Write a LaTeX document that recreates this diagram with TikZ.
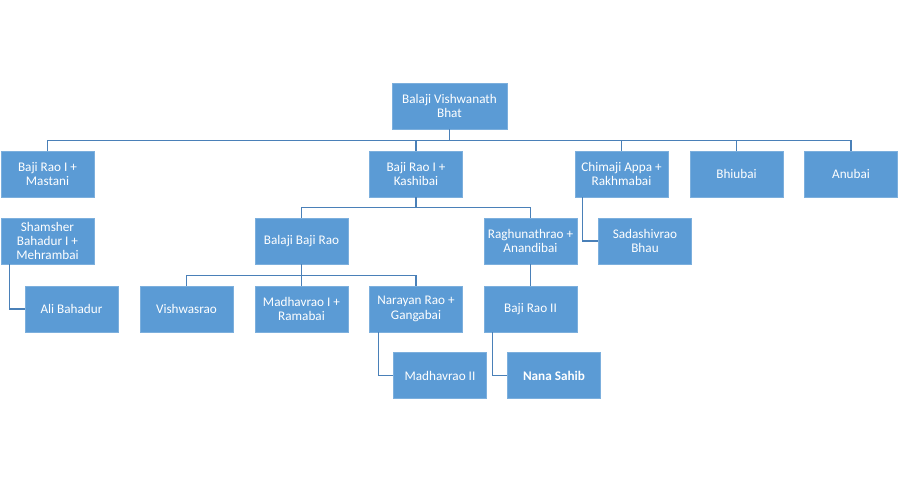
\documentclass[tikz,border=0pt]{standalone}
\usepackage{fontspec}
\setmainfont{Carlito}
\definecolor{boxblue}{HTML}{5B9BD5}
\definecolor{lineblue}{HTML}{4A80B8}
\tikzset{
  box/.style={rectangle, fill=boxblue, draw=boxblue!80!white, line width=0.6pt,
    minimum width=93pt, minimum height=46pt, inner sep=1pt, align=center,
    text=white, font=\fontsize{13.2}{14.4}\selectfont},
  link/.style={draw=lineblue, line width=1.4pt},
}
\begin{document}
\begin{tikzpicture}[x=1pt,y=-1pt]
\useasboundingbox[fill=white] (0,0) rectangle (900,500);
% nodes
\node[box, minimum width=115pt] (root) at (449.5,106) {Balaji Vishwanath\\Bhat};
\node[box] (mastani) at (47.5,174) {Baji Rao I +\\Mastani};
\node[box] (kashibai) at (416,174) {Baji Rao I +\\Kashibai};
\node[box] (chimaji) at (621.5,174) {Chimaji Appa +\\Rakhmabai};
\node[box] (bhiubai) at (736.5,174) {Bhiubai};
\node[box] (anubai) at (851,174) {Anubai};
\node[box] (shamsher) at (47.5,241) {Shamsher\\Bahadur I +\\Mehrambai};
\node[box] (balaji) at (301.5,241) {Balaji Baji Rao};
\node[box] (raghu) at (530.5,241) {Raghunathrao +\\Anandibai};
\node[box] (sadashiv) at (645,241) {Sadashivrao\\Bhau};
\node[box] (ali) at (71.5,309) {Ali Bahadur};
\node[box] (vishwas) at (186.5,309) {Vishwasrao};
\node[box] (madhav1) at (301.5,309) {Madhavrao I +\\Ramabai};
\node[box] (narayan) at (416,309) {Narayan Rao +\\Gangabai};
\node[box] (bajirao2) at (530.5,309) {Baji Rao II};
\node[box] (madhav2) at (440,375.5) {Madhavrao II};
\node[box] (nana) at (554,375.5) {\bfseries Nana Sahib};
% connectors
\begin{scope}[on background layer/.style={}]
\foreach \c in {mastani,kashibai,chimaji,bhiubai,anubai}
  \draw[link] (root.south) -- ++(0,11) -| (\c.north);
\foreach \c in {balaji,raghu}
  \draw[link] (kashibai.south) -- ++(0,10) -| (\c.north);
\foreach \c in {vishwas,madhav1,narayan}
  \draw[link] (balaji.south) -- ++(0,11) -| (\c.north);
\draw[link] (raghu.south) -- (bajirao2.north);
\draw[link] ([xshift=8pt]chimaji.south west) |- (sadashiv.west);
\draw[link] ([xshift=9pt]shamsher.south west) |- (ali.west);
\draw[link] ([xshift=9pt]narayan.south west) |- (madhav2.west);
\draw[link] ([xshift=9pt]bajirao2.south west) |- (nana.west);
\end{scope}
\end{tikzpicture}
\end{document}
